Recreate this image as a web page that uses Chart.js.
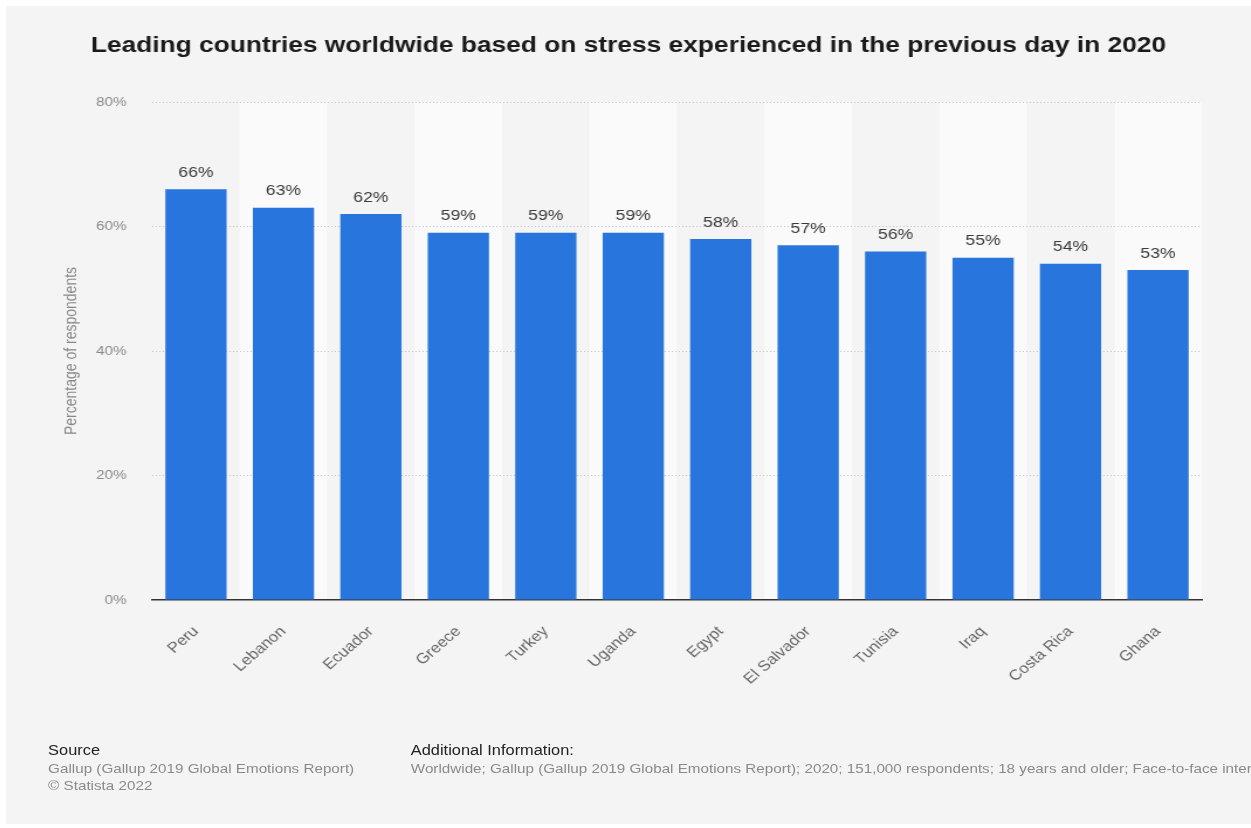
<!DOCTYPE html>
<html>
<head>
<meta charset="utf-8">
<script src="https://cdn.jsdelivr.net/npm/chart.js@4"></script>
<style>
  html, body { margin: 0; padding: 0; background: #fff; overflow: hidden; }
  body { width: 1251px; height: 828px; position: relative; font-family: "Liberation Sans", Arial, sans-serif; }
  #panel { position: absolute; left: 6px; top: 6px; width: 1245px; height: 818px; background: #f4f4f4; overflow: hidden; }
  /* everything is laid out 1064px wide and widened to the panel */
  #wide { position: absolute; left: 0; top: 0; width: 1064px; height: 818px; overflow: hidden;
          transform: scaleX(1.17); transform-origin: 0 0; }
  #chart { position: absolute; left: 0; top: 0; }
  .foot { position: absolute; white-space: nowrap; font-size: 13px; color: #8a8a8a; line-height: 16px; }
  .head { color: #222; font-size: 14px; }
</style>
</head>
<body>
<div id="panel">
  <div id="wide">
    <canvas id="chart" width="1064" height="818"></canvas>
    <div class="foot head" style="left:36px; top:736px;">Source</div>
    <div class="foot" style="left:36px; top:755px;">Gallup (Gallup 2019 Global Emotions Report)</div>
    <div class="foot" style="left:36px; top:772px;">© Statista 2022</div>
    <div class="foot head" style="left:346px; top:736px;">Additional Information:</div>
    <div class="foot" style="left:346px; top:755px;">Worldwide; Gallup (Gallup 2019 Global Emotions Report); 2020; 151,000 respondents; 18 years and older; Face-to-face interviews</div>
  </div>
</div>
<script>
const countries = ['Peru', 'Lebanon', 'Ecuador', 'Greece', 'Turkey', 'Uganda', 'Egypt', 'El Salvador', 'Tunisia', 'Iraq', 'Costa Rica', 'Ghana']
const stressShare = [66, 63, 62, 59, 59, 59, 58, 57, 56, 55, 54, 53]
const yTicks = [0, 20, 40, 60, 80]

const FONT = '"Liberation Sans", Arial, sans-serif'

// lighter background behind every second column
const columnBands = {
    id: 'columnBands',
    beforeDraw(chart) {
        const { ctx, chartArea, scales } = chart
        const step = scales.x.width / countries.length
        ctx.save()
        ctx.fillStyle = '#fafafa'
        countries.forEach((c, i) => {
            if (i % 2 === 1) {
                const x = scales.x.getPixelForValue(i) - step / 2
                ctx.fillRect(x, chartArea.top, step, chartArea.bottom - chartArea.top)
            }
        })
        ctx.restore()
    }
}

// value labels above the bars
const barLabels = {
    id: 'barLabels',
    afterDatasetsDraw(chart) {
        const { ctx } = chart
        const meta = chart.getDatasetMeta(0)
        ctx.save()
        ctx.font = '15px ' + FONT
        ctx.fillStyle = '#3a3a3a'
        ctx.textAlign = 'center'
        ctx.textBaseline = 'bottom'
        meta.data.forEach((bar, i) => {
            ctx.fillText(stressShare[i] + '%', bar.x, bar.y - 9)
        })
        ctx.restore()
    }
}

new Chart(document.getElementById('chart'), {
    type: 'bar',
    data: {
        labels: countries,
        datasets: [{
            label: 'Percentage of respondents',
            data: stressShare,
            backgroundColor: '#2876dd',
            barPercentage: 0.7,
            categoryPercentage: 1
        }]
    },
    options: {
        responsive: false,
        animation: false,
        layout: { padding: { left: 42, right: 42, top: 0, bottom: 0 } },
        plugins: {
            legend: { display: false },
            tooltip: { enabled: false },
            title: {
                display: true,
                text: 'Leading countries worldwide based on stress experienced in the previous day in 2020',
                color: '#1a1a1a',
                font: { family: FONT, size: 22.5, weight: 'bold', lineHeight: 1.2 },
                padding: { top: 26.5, bottom: 42.5 }
            }
        },
        scales: {
            x: {
                grid: { display: false, drawTicks: false },
                border: { display: true, color: '#333', width: 1.5 },
                ticks: {
                    color: '#666',
                    font: { family: FONT, size: 14.5 },
                    minRotation: 45,
                    maxRotation: 45,
                    padding: 23
                },
                afterFit: s => { s.height = 224 }
            },
            y: {
                min: 0,
                max: 80,
                afterBuildTicks: s => { s.ticks = yTicks.map(v => ({ value: v })) },
                grid: {
                    drawTicks: false,
                    color: c => c.tick && c.tick.value === 0 ? 'rgba(0,0,0,0)' : '#c4c4c4',
                    lineWidth: 1
                },
                border: { display: false, dash: [1, 2] },
                ticks: {
                    color: '#888',
                    font: { family: FONT, size: 13 },
                    padding: 22,
                    callback: v => v + '%'
                },
                title: {
                    display: true,
                    text: 'Percentage of respondents',
                    color: '#888',
                    font: { family: FONT, size: 14 },
                    padding: { top: 6, bottom: 0 }
                },
                afterFit: s => { s.width = 83 }
            }
        }
    },
    plugins: [columnBands, barLabels]
})
</script>
</body>
</html>
